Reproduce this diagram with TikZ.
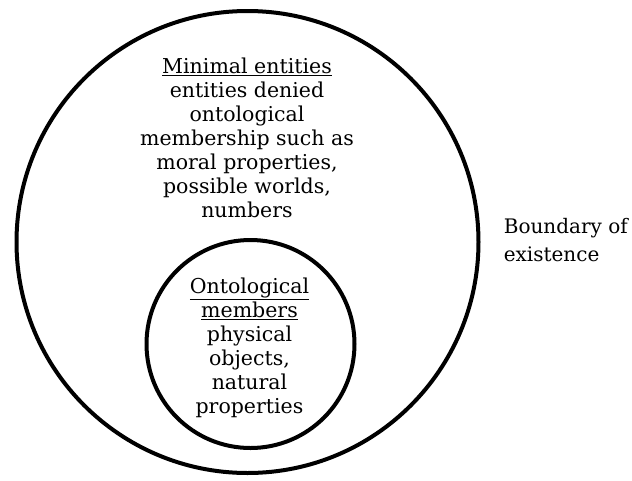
\documentclass[tikz,border=0pt]{standalone}
\usepackage{fontspec}
\setmainfont{DejaVu Serif}
\usetikzlibrary{positioning}

\begin{document}
\begin{tikzpicture}[x=1pt,y=-1pt,line width=4pt]

		\tikzstyle{every node}=[align=center,text=black,font=\fontsize{20.5}{24}\selectfont]
		\tikzstyle{ring}=[circle,draw=black,fill=none,inner sep=0pt]

		\useasboundingbox (0,0) rectangle (632,480);

		\node[ring,minimum size=462pt] (world) at (247.5,242) {};
		\node[ring,minimum size=208pt] (members) at (250.5,344) {};

		\node (minimal) at (247,138) {\underline{Minimal entities}\\entities denied\\ontological\\membership such as\\moral properties,\\possible worlds,\\numbers};
		\node (inner) at (249.5,347.5) {\underline{Ontological}\\\underline{members}\\physical\\objects,\\natural\\properties};
		\node[align=left,anchor=west,yshift=2pt,font=\fontsize{20}{28}\selectfont] (boundary) [right=18pt of world.east] {Boundary of\\existence};

	\end{tikzpicture}
\end{document}
